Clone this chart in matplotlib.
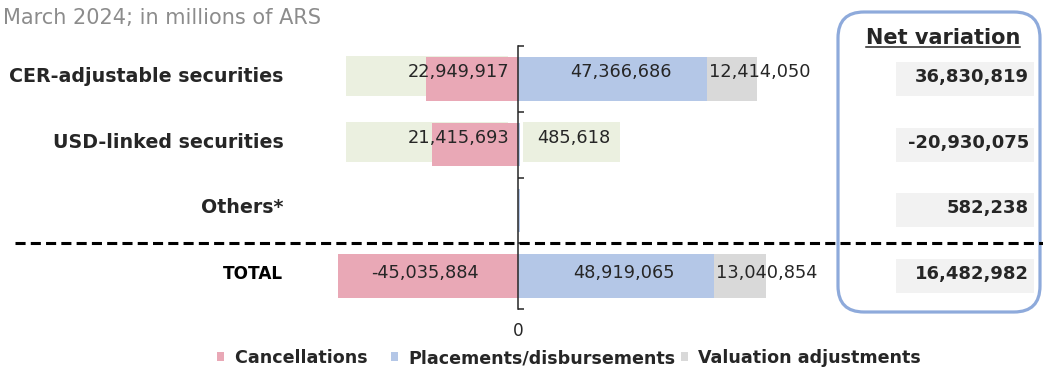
import numpy as np
import matplotlib.pyplot as plt
from matplotlib.patches import Patch, Rectangle, FancyBboxPatch
from matplotlib.lines import Line2D
from matplotlib.transforms import blended_transform_factory, ScaledTranslation

# Flows of public debt in pesos, March 2024 (millions of ARS)
categories = ["CER-adjustable securities", "USD-linked securities", "Others*", "TOTAL"]
cancellations = [-22949917, -21415693, 0, -45035884]
placements = [47366686, 485618, 582238, 48919065]
valuation = [12414050, 0, 0, 13040854]
net_variation = [36830819, -20930075, 582238, 16482982]
series_names = ["Cancellations", "Placements/disbursements", "Valuation adjustments"]

PINK = "#E9A8B6"
BLUE = "#B4C7E7"
GRAY = "#D9D9D9"
GREEN = "#EBF0E0"
NETBG = "#F2F2F2"
DARK = "#262626"
PT = 0.72  # points per pixel at 100 dpi

fmt = lambda v: f"{v:,.0f}"

fig = plt.figure(figsize=(10.43, 3.67), dpi=100)
ax = fig.add_axes([300 / 1043, 58 / 367, 540 / 1043, 263 / 367])

y = np.arange(len(categories))
h = 0.66
ax.barh(y, cancellations, height=h, color=PINK, zorder=2)
ax.barh(y, placements, height=h, color=BLUE, zorder=2)
ax.barh(y, valuation, left=placements, height=h, color=GRAY, zorder=2)

ax.set_ylim(3.5, -0.5)
ax.set_xlim(-54.5e6, 80.5e6)
for s in ["top", "right", "bottom"]:
    ax.spines[s].set_visible(False)
ax.spines["left"].set_position(("data", 0))
ax.spines["left"].set_color(DARK)
ax.spines["left"].set_linewidth(1.1)
ax.spines["left"].set_zorder(3)
ax.set_yticks(np.arange(-0.5, len(categories), 1))
ax.tick_params(axis="y", direction="in", length=4.3, width=1.1, color=DARK, labelleft=False)
ax.set_xticks([0])
ax.set_xticklabels(["0"])
ax.tick_params(axis="x", length=0, pad=9.5, labelsize=12.2, labelcolor=DARK)

# category names, right aligned left of the plot
ytrans = ax.get_yaxis_transform()
for i, cat in enumerate(categories):
    total = cat == "TOTAL"
    ax.annotate(cat, (-0.031, i), xycoords=ytrans, xytext=(0, 2.5 * PT),
                textcoords="offset points", ha="right", va="center",
                fontsize=12.2 if total else 13.7, weight="heavy" if total else "bold",
                color="black" if total else DARK)


def backdrop(x, row, x0, x1, dy=2.5, hpx=40):
    # light label box given in pixels around a data anchor
    tr = fig.dpi_scale_trans + ScaledTranslation(x, row, ax.transData)
    ax.add_patch(Rectangle((x0 / 100, (dy - hpx / 2) / 100), (x1 - x0) / 100, hpx / 100,
                           transform=tr, facecolor=GREEN, edgecolor="none", zorder=1))


def value_label(x, row, text, ha, dx, dy):
    ax.annotate(text, (x, row), xytext=(dx * PT, dy * PT), textcoords="offset points",
                ha=ha, va="center", fontsize=12.8, color=DARK, zorder=5)


for i, cat in enumerate(categories):
    if cat == "Others*":
        continue
    dy = 3.5 if cat == "TOTAL" else 7
    c, p, v = cancellations[i], placements[i], valuation[i]
    if cat == "TOTAL":
        value_label(c / 2, i, fmt(c), "center", -3, dy)
    else:
        backdrop(0, i, -172, -10)
        value_label(0, i, fmt(-c), "right", -9, dy)
    if p > 5e6:
        value_label(p / 2, i, fmt(p), "center", 8, dy)
    else:
        backdrop(0, i, 5, 102)
        value_label(0, i, fmt(p), "left", 19, dy)
    if v:
        value_label(p, i, fmt(v), "left", 2, dy)

# net variation column
netx = blended_transform_factory(fig.transFigure, ax.transData)
for i, nv in enumerate(net_variation):
    tr = fig.dpi_scale_trans + ScaledTranslation(1034 / 1043, i, netx)
    ax.add_patch(Rectangle((-1.38, -0.17), 1.38, 0.34, transform=tr, facecolor=NETBG,
                           edgecolor="none", clip_on=False, zorder=1))
    ax.annotate(fmt(nv), (1029 / 1043, i), xycoords=netx, xytext=(0, 2 * PT),
                textcoords="offset points", ha="right", va="center", fontsize=13,
                weight="bold", color=DARK, annotation_clip=False)

head = fig.text(943 / 1043, 1 - 38 / 367, "Net variation", ha="center", va="center",
                fontsize=15, weight="bold", color=DARK)
fig.canvas.draw()
bb = head.get_window_extent()
fig.add_artist(Line2D([bb.x0 / 1043, bb.x1 / 1043], [(bb.y0 + 1) / 367] * 2,
                      transform=fig.transFigure, color=DARK, lw=1.1))

fig.add_artist(FancyBboxPatch((8.38, 0.55), 2.02, 3.0,
                              boxstyle="round,pad=0,rounding_size=0.26",
                              transform=fig.dpi_scale_trans, facecolor="none",
                              edgecolor="#8EAADB", lw=2.3))

# separator above the total row
fig.add_artist(Line2D([15 / 1043, 1], [2.5, 2.5], transform=netx, color="black",
                      lw=2.2, dashes=(3.3, 1.7)))

fig.text(3 / 1043, 1 - 18 / 367, "March 2024; in millions of ARS", ha="left", va="center",
         fontsize=15, color="#8C8C8C")

handles = [Patch(facecolor=c, edgecolor="none") for c in (PINK, BLUE, GRAY)]
fig.legend(handles, [series_names[0] + "   ", series_names[1], series_names[2]],
           loc="lower center", bbox_to_anchor=(569 / 1043, -0.043), ncol=3, frameon=False,
           handlelength=0.4, handleheight=0.4, handletextpad=0.6, columnspacing=0.3,
           prop={"size": 12.6, "weight": "bold"}, labelcolor=DARK)

fig.savefig("out.png", dpi=100)
